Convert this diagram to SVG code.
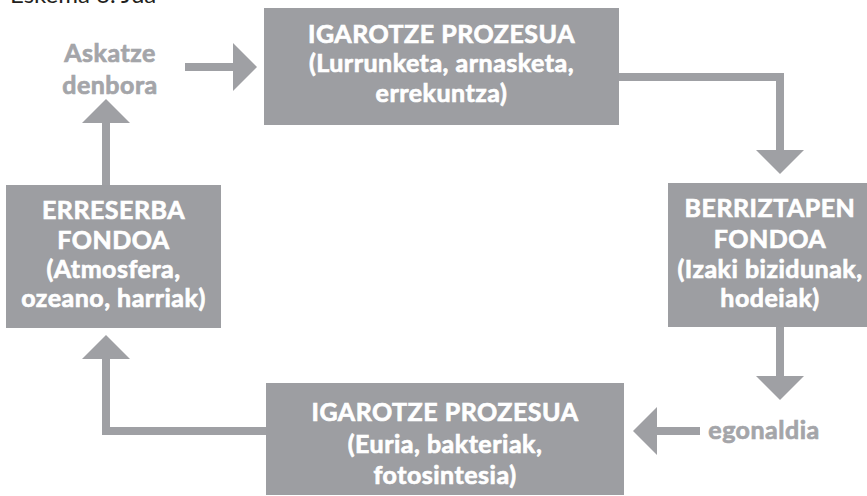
<svg xmlns="http://www.w3.org/2000/svg" width="867" height="496" viewBox="0 0 867 496">
  <style>
    .box { fill: #9d9ea2; }
    .lbl { font-family: Lato, "Open Sans", "Liberation Sans", sans-serif; font-weight: bold; font-size: 25px; letter-spacing: 0.5px; text-anchor: middle; fill: #ffffff; stroke: #ffffff; stroke-width: 0.7px; paint-order: stroke; }
    .side { font-family: Lato, "Open Sans", "Liberation Sans", sans-serif; font-weight: bold; font-size: 25px; letter-spacing: 0.5px; text-anchor: middle; fill: #a4a5a9; stroke: #a4a5a9; stroke-width: 0.7px; paint-order: stroke; }
    .title { font-family: Lato, "Liberation Sans", sans-serif; font-size: 24px; fill: #231f20; }
    .link { fill: none; stroke: #9fa0a4; stroke-width: 8; stroke-linecap: butt; stroke-linejoin: miter; marker-end: url(#head); }
  </style>
  <defs>
    <marker id="head" markerUnits="userSpaceOnUse" markerWidth="24" markerHeight="48" viewBox="0 0 24 48" refX="0" refY="24" orient="auto">
      <path d="M0,0 L24,24 L0,48 Z" fill="#9fa0a4"/>
    </marker>
  </defs>

  <rect width="867" height="496" fill="#ffffff"/>

  <text class="title" x="10" y="3">Eskema 6. Jua</text>

  <!-- connectors -->
  <g id="connectors">
    <path class="link" d="M185,67 H233"/>
    <path class="link" d="M619,77 H780 V150"/>
    <path class="link" d="M780,327 V376"/>
    <path class="link" d="M700,431 H657"/>
    <path class="link" d="M267,431 H106 V359"/>
    <path class="link" d="M106,185 V123"/>
  </g>

  <g id="igarotze-goian">
    <rect class="box" x="264" y="8" width="355" height="117"/>
    <text class="lbl" x="441.5" y="43">IGAROTZE PROZESUA</text>
    <text class="lbl" x="441.5" y="72">(Lurrunketa, arnasketa,</text>
    <text class="lbl" x="441.5" y="102">errekuntza)</text>
  </g>

  <g id="berriztapen-fondoa">
    <rect class="box" x="668" y="183" width="199" height="144"/>
    <text class="lbl" x="770" y="217">BERRIZTAPEN</text>
    <text class="lbl" x="770" y="248">FONDOA</text>
    <text class="lbl" x="770" y="278">(Izaki bizidunak,</text>
    <text class="lbl" x="770" y="307">hodeiak)</text>
  </g>

  <g id="igarotze-behean">
    <rect class="box" x="266" y="383" width="358" height="112"/>
    <text class="lbl" x="445" y="421">IGAROTZE PROZESUA</text>
    <text class="lbl" x="445" y="453">(Euria, bakteriak,</text>
    <text class="lbl" x="445" y="484">fotosintesia)</text>
  </g>

  <g id="erreserba-fondoa">
    <rect class="box" x="6" y="185" width="215" height="143"/>
    <text class="lbl" x="113.5" y="219">ERRESERBA</text>
    <text class="lbl" x="113.5" y="249">FONDOA</text>
    <text class="lbl" x="113.5" y="278">(Atmosfera,</text>
    <text class="lbl" x="113.5" y="307">ozeano, harriak)</text>
  </g>

  <g id="askatze-denbora">
    <text class="side" x="110" y="62">Askatze</text>
    <text class="side" x="110" y="94">denbora</text>
  </g>

  <g id="egonaldia">
    <text class="side" x="764" y="439">egonaldia</text>
  </g>
</svg>
